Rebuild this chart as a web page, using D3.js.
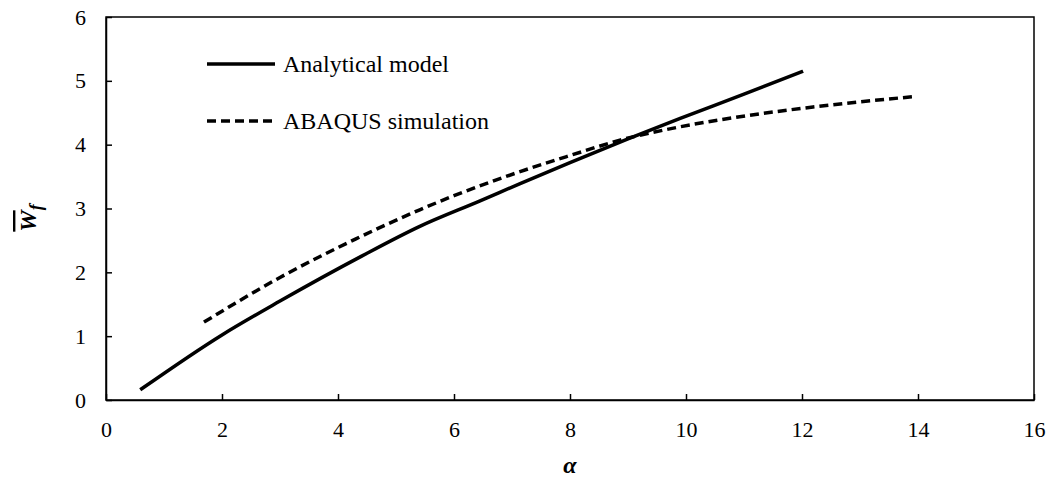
<!DOCTYPE html>
<html>
<head>
<meta charset="utf-8">
<script src="https://cdn.jsdelivr.net/npm/d3@7"></script>
<style>
body { margin: 0; background: #fff; }
svg text { font-family: "Liberation Serif", "Times New Roman", Times, serif; fill: #000; }
</style>
</head>
<body>
<div id="chart"></div>
<script>
// values
var analyticalX = [0.59, 2.0, 3.0, 4.4, 5.41, 6.45, 7.14, 8.0, 9.0, 9.9, 11.0, 12.02];
var analyticalY = [0.16, 1.02, 1.55, 2.25, 2.72, 3.12, 3.39, 3.72, 4.09, 4.41, 4.79, 5.15];
var abaqusX = [1.69, 3.0, 4.3, 5.41, 6.0, 7.05, 8.0, 8.86, 9.9, 10.59, 12.19, 13.9];
var abaqusY = [1.22, 1.92, 2.52, 2.98, 3.2, 3.55, 3.83, 4.07, 4.28, 4.39, 4.59, 4.75];
var xTicks = [0, 2, 4, 6, 8, 10, 12, 14, 16];
var yTicks = [0, 1, 2, 3, 4, 5, 6];
var seriesNames = ["Analytical model", "ABAQUS simulation"];

var serif = "'Liberation Serif', 'Times New Roman', Times, serif";
var width = 1049, height = 479;
var margin = {left: 106, right: 15, top: 17, bottom: 79};

var svg = d3.select("#chart")
    .append("svg")
    .attr("width", width)
    .attr("height", height);

var x = d3.scaleLinear().domain([0, 16]).range([margin.left, width - margin.right]);
var y = d3.scaleLinear().domain([0, 6]).range([height - margin.bottom, margin.top]);

// frame
svg.append("rect")
    .attr("x", x(0))
    .attr("y", y(6))
    .attr("width", x(16) - x(0))
    .attr("height", y(0) - y(6))
    .style("fill", "none")
    .style("stroke", "#000")
    .style("stroke-width", 1.5);

var xAxis = svg.append("g")
    .attr("transform", "translate(0," + y(0) + ")")
    .call(d3.axisBottom(x).tickValues(xTicks).tickFormat(d3.format("d"))
        .tickSizeInner(-6).tickSizeOuter(0).tickPadding(21));
var yAxis = svg.append("g")
    .attr("transform", "translate(" + x(0) + ",0)")
    .call(d3.axisLeft(y).tickValues(yTicks).tickFormat(d3.format("d"))
        .tickSizeInner(-6).tickSizeOuter(0).tickPadding(20));

[xAxis, yAxis].forEach(function(a) {
    a.attr("font-family", serif).attr("font-size", 22);
    a.select(".domain").style("stroke", "#000").style("stroke-width", 1.5);
    a.selectAll(".tick line").style("stroke", "#000").style("stroke-width", 1.5);
    a.selectAll(".tick text").style("fill", "#000");
});

var line = d3.line()
    .x(function(d) { return x(d[0]); })
    .y(function(d) { return y(d[1]); })
    .curve(d3.curveMonotoneX);

var analytical = analyticalX.map(function(v, i) { return [v, analyticalY[i]]; });
var abaqus = abaqusX.map(function(v, i) { return [v, abaqusY[i]]; });

svg.append("path")
    .datum(analytical)
    .attr("d", line)
    .style("fill", "none")
    .style("stroke", "#000")
    .style("stroke-width", 3.5);

svg.append("path")
    .datum(abaqus)
    .attr("d", line)
    .style("fill", "none")
    .style("stroke", "#000")
    .style("stroke-width", 3.5)
    .style("stroke-dasharray", "9,5");

// legend
var legend = svg.append("g");
seriesNames.forEach(function(name, i) {
    var ly = 64 + i * 57;
    legend.append("line")
        .attr("x1", 207).attr("x2", 275)
        .attr("y1", ly).attr("y2", ly)
        .style("stroke", "#000")
        .style("stroke-width", 3.5)
        .style("stroke-dasharray", i == 1 ? "9,5" : null);
    legend.append("text")
        .attr("x", 283)
        .attr("y", ly + 8)
        .attr("font-family", serif)
        .attr("font-size", 24)
        .text(name);
});

// axis titles
svg.append("text")
    .attr("x", (x(0) + x(16)) / 2)
    .attr("y", 473)
    .attr("text-anchor", "middle")
    .attr("font-family", serif)
    .attr("font-size", 24)
    .style("font-weight", "bold")
    .style("font-style", "italic")
    .text("α");

var yt = svg.append("text")
    .attr("transform", "translate(36,218) rotate(-90)")
    .attr("text-anchor", "middle")
    .attr("font-family", serif)
    .attr("font-size", 24)
    .style("font-weight", "bold")
    .style("font-style", "italic");
yt.append("tspan")
    .style("text-decoration", "overline")
    .text("W");
yt.append("tspan")
    .attr("dy", 6)
    .attr("font-size", 18)
    .text("f");
</script>
</body>
</html>
